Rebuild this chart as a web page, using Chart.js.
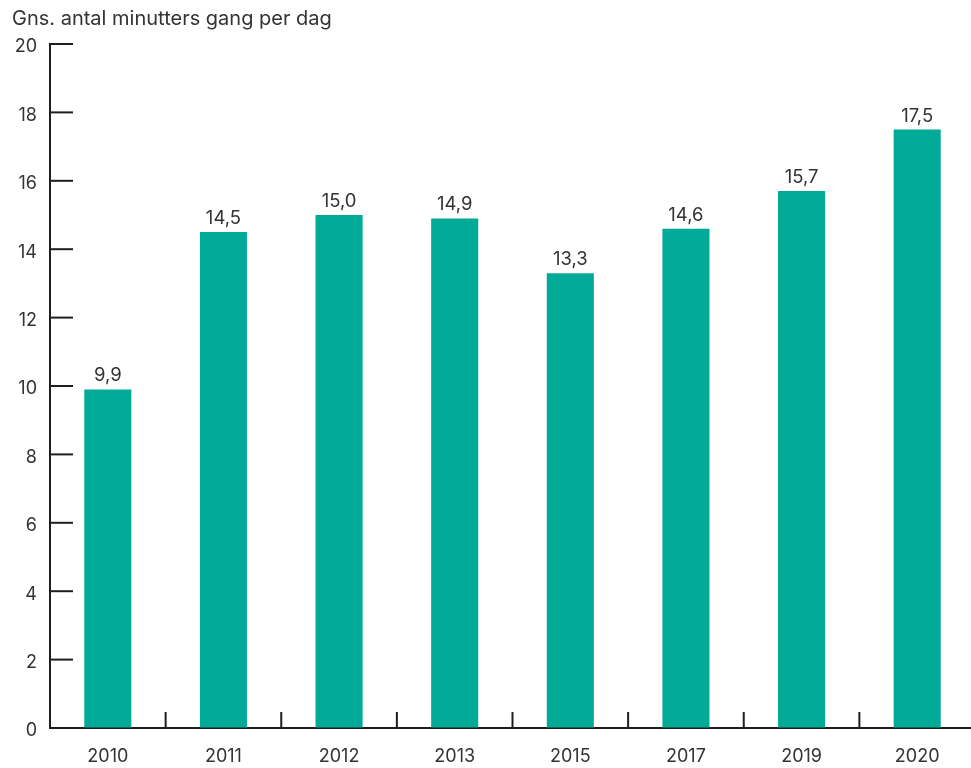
<!DOCTYPE html>
<html>
<head>
<meta charset="utf-8">
<script src="https://cdn.jsdelivr.net/npm/chart.js@4.4.0/dist/chart.umd.min.js"></script>
<style>
  html, body { margin: 0; padding: 0; background: #fff; overflow: hidden; }
  #wrap { width: 975px; height: 768px; }
</style>
</head>
<body>
<div id="wrap"><canvas id="chart" width="975" height="768"></canvas></div>
<script>
const years = ['2010', '2011', '2012', '2013', '2015', '2017', '2019', '2020'];
const minutes = [9.9, 14.5, 15.0, 14.9, 13.3, 14.6, 15.7, 17.5];
const yTicks = [0, 2, 4, 6, 8, 10, 12, 14, 16, 18, 20];
const axisTitle = 'Gns. antal minutters gang per dag';

const barColor = '#00aa96';
const axisColor = '#1e1e1e';
const textColor = '#333333';
const fontFamily = 'Inter, "Noto Sans", sans-serif';

// tick marks, value labels and the title, drawn on top of the bars
const extras = {
  id: 'extras',
  afterDatasetsDraw(chart) {
    const ctx = chart.ctx;
    const x = chart.scales.x;
    const y = chart.scales.y;
    const area = chart.chartArea;
    ctx.save();
    ctx.strokeStyle = axisColor;
    ctx.lineWidth = 2;
    y.ticks.forEach(t => {
      const py = y.getPixelForValue(t.value);
      ctx.beginPath();
      ctx.moveTo(area.left, py);
      ctx.lineTo(area.left + 23, py);
      ctx.stroke();
    });
    const step = x.getPixelForValue(1) - x.getPixelForValue(0);
    for (let i = 0; i < years.length; i++) {
      const px = x.getPixelForValue(i) + step / 2;
      ctx.beginPath();
      ctx.moveTo(px, area.bottom);
      ctx.lineTo(px, area.bottom - 16);
      ctx.stroke();
    }
    ctx.fillStyle = textColor;
    ctx.font = '18.5px ' + fontFamily;
    ctx.textAlign = 'center';
    ctx.textBaseline = 'alphabetic';
    chart.getDatasetMeta(0).data.forEach((bar, i) => {
      ctx.fillText(minutes[i].toFixed(1).replace('.', ','), bar.x, bar.y - 8);
    });
    ctx.textAlign = 'left';
    ctx.font = '20px ' + fontFamily;
    ctx.fillText(axisTitle, 12, 25);
    ctx.restore();
  }
};

new Chart(document.getElementById('chart'), {
  type: 'bar',
  data: {
    labels: years,
    datasets: [{
      data: minutes,
      backgroundColor: barColor,
      categoryPercentage: 1,
      barPercentage: 0.407
    }]
  },
  options: {
    responsive: false,
    animation: false,
    layout: { padding: { top: 44, left: 0, right: 0, bottom: 0 } },
    plugins: { legend: { display: false }, tooltip: { enabled: false } },
    scales: {
      x: {
        offset: true,
        grid: { drawOnChartArea: false, drawTicks: false },
        border: { display: true, color: axisColor, width: 2 },
        ticks: { color: textColor, padding: 18, font: { family: fontFamily, size: 18 } },
        afterFit(scale) { scale.height = 40; }
      },
      y: {
        min: 0,
        max: 20,
        afterBuildTicks(scale) { scale.ticks = yTicks.map(v => ({ value: v })); },
        grid: { drawOnChartArea: false, drawTicks: false },
        border: { display: true, color: axisColor, width: 2 },
        ticks: { color: textColor, padding: 13, labelOffset: 3, font: { family: fontFamily, size: 18 } },
        afterFit(scale) { scale.width = 50; }
      }
    }
  },
  plugins: [extras]
});
</script>
</body>
</html>
